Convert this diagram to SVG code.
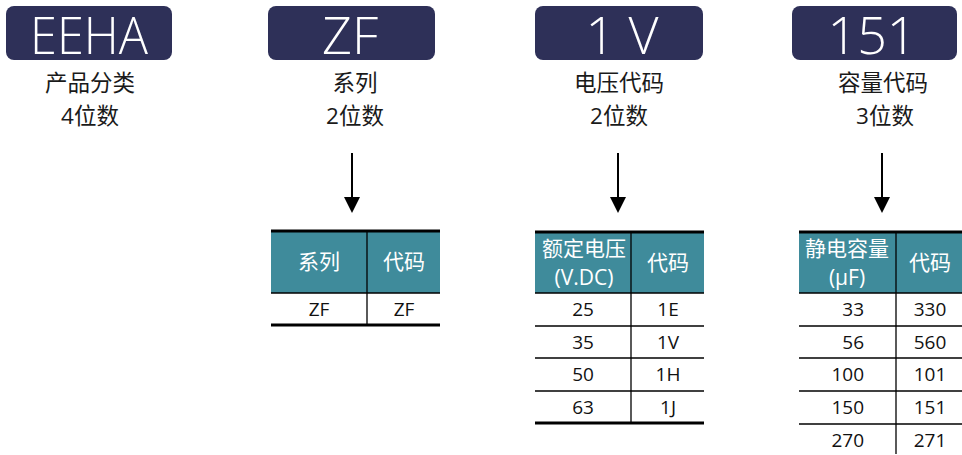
<svg xmlns="http://www.w3.org/2000/svg" width="962" height="455" viewBox="0 0 962 455">
<defs>
<style>
.box{fill:#2e3058;}
.big{font-family:"Open Sans","Liberation Sans",sans-serif;font-weight:300;font-size:52px;fill:#ffffff;text-anchor:middle;}
.lbl{font-family:"Open Sans","Noto Sans CJK SC",sans-serif;font-size:22.5px;fill:#1a1a1a;text-anchor:middle;}
.hd{fill:#3f8b9b;}
.ht{font-family:"Open Sans","Noto Sans CJK SC",sans-serif;font-size:21px;fill:#ffffff;text-anchor:middle;}
.td{font-family:"Open Sans","Noto Sans CJK SC",sans-serif;font-size:19px;fill:#111111;text-anchor:middle;}
.tr{text-anchor:end;}
.thick{stroke:#000;stroke-width:3;}
.thin{stroke:#000;stroke-width:1.3;}
.conn{stroke:#000;stroke-width:2;fill:none;}
.head{fill:#000;}
</style>
</defs>

<g id="node-eeha">
<rect class="box" x="6" y="6" width="166" height="54" rx="8"/>
<text class="big" x="89" y="54" textLength="118" lengthAdjust="spacingAndGlyphs">EEHA</text>
<text class="lbl" x="90" y="91">产品分类</text>
<text class="lbl" x="90" y="124">4位数</text>
</g>

<g id="node-zf">
<rect class="box" x="268" y="6" width="167" height="54" rx="8"/>
<text class="big" x="350" y="54">ZF</text>
<text class="lbl" x="355" y="91">系列</text>
<text class="lbl" x="355" y="124">2位数</text>
</g>

<g id="node-1v">
<rect class="box" x="535" y="6" width="168" height="54" rx="8"/>
<text class="big" x="622" y="54">1 V</text>
<text class="lbl" x="619" y="91">电压代码</text>
<text class="lbl" x="619" y="124">2位数</text>
</g>

<g id="node-151">
<rect class="box" x="792" y="6" width="165" height="54" rx="8"/>
<text class="big" x="872" y="54">151</text>
<text class="lbl" x="883" y="91">容量代码</text>
<text class="lbl" x="885" y="124">3位数</text>
</g>

<g id="connectors">
<path class="conn" d="M352,153 V197"/>
<path class="head" d="M344,197 L360,197 L352,213 Z"/>
<path class="conn" d="M618,153 V197"/>
<path class="head" d="M610,197 L626,197 L618,213 Z"/>
<path class="conn" d="M882,153 V197"/>
<path class="head" d="M874,197 L890,197 L882,213 Z"/>
</g>

<g id="table-series">
<rect class="hd" x="271" y="231" width="169" height="62"/>
<text class="ht" x="319" y="269">系列</text>
<text class="ht" x="404" y="269">代码</text>
<line class="thin" x1="367" y1="231" x2="367" y2="325"/>
<line class="thin" x1="271" y1="293" x2="440" y2="293"/>
<text class="td" x="319" y="316">ZF</text>
<text class="td" x="404" y="316">ZF</text>
<line class="thick" x1="271" y1="231" x2="440" y2="231"/>
<line class="thick" x1="271" y1="325" x2="440" y2="325"/>
</g>

<g id="table-voltage">
<rect class="hd" x="535" y="232" width="169" height="61"/>
<text class="ht" x="584" y="256">额定电压</text>
<text class="ht" x="584" y="285">(V.DC)</text>
<text class="ht" x="668" y="270">代码</text>
<line class="thin" x1="631" y1="232" x2="631" y2="423"/>
<line class="thin" x1="535" y1="293" x2="704" y2="293"/>
<line class="thin" x1="535" y1="326" x2="704" y2="326"/>
<line class="thin" x1="535" y1="358" x2="704" y2="358"/>
<line class="thin" x1="535" y1="391" x2="704" y2="391"/>
<text class="td" x="583" y="316">25</text><text class="td" x="668" y="316">1E</text>
<text class="td" x="583" y="349">35</text><text class="td" x="668" y="349">1V</text>
<text class="td" x="583" y="381">50</text><text class="td" x="668" y="381">1H</text>
<text class="td" x="583" y="414">63</text><text class="td" x="668" y="414">1J</text>
<line class="thick" x1="535" y1="232" x2="704" y2="232"/>
<line class="thick" x1="535" y1="423" x2="704" y2="423"/>
</g>

<g id="table-capacitance">
<rect class="hd" x="799" y="232" width="163" height="61"/>
<text class="ht" x="847" y="256">静电容量</text>
<text class="ht" x="847" y="285">(μF)</text>
<text class="ht" x="930" y="270">代码</text>
<line class="thin" x1="896" y1="232" x2="896" y2="454"/>
<line class="thin" x1="799" y1="293" x2="962" y2="293"/>
<line class="thin" x1="799" y1="326" x2="962" y2="326"/>
<line class="thin" x1="799" y1="358" x2="962" y2="358"/>
<line class="thin" x1="799" y1="391" x2="962" y2="391"/>
<line class="thin" x1="799" y1="424" x2="962" y2="424"/>
<text class="td tr" x="864" y="316">33</text><text class="td" x="930" y="316">330</text>
<text class="td tr" x="864" y="349">56</text><text class="td" x="930" y="349">560</text>
<text class="td tr" x="864" y="381">100</text><text class="td" x="930" y="381">101</text>
<text class="td tr" x="864" y="414">150</text><text class="td" x="930" y="414">151</text>
<text class="td tr" x="864" y="447">270</text><text class="td" x="930" y="447">271</text>
<line class="thick" x1="799" y1="232" x2="962" y2="232"/>
</g>
</svg>
